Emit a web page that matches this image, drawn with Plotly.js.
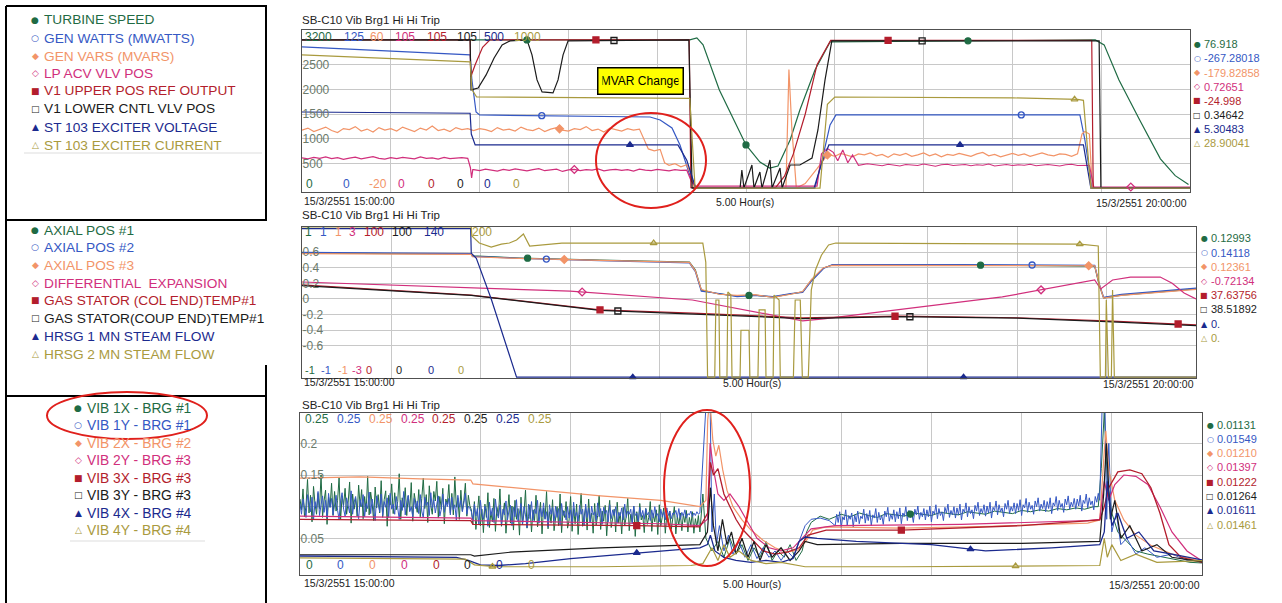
<!DOCTYPE html>
<html>
<head>
<meta charset="utf-8">
<script src="https://cdn.plot.ly/plotly-3.0.1.min.js"></script>
<style>
html,body{margin:0;padding:0;background:#ffffff;overflow:hidden;}
#chart{width:1282px;height:603px;}
</style>
</head>
<body>
<div id="chart"></div>
<script>
// ======================= DATA =======================
// Time in minutes after 15/3/2551 15:00:00 (0 .. 300 = 20:00:00)
function grid(t0, n, dt){ const a=[]; for(let i=0;i<n;i++) a.push(+(t0+i*dt).toFixed(2)); return a; }
const milli = a => a.map(v => v / 1000);

// ---------- Panel 1 (values in the panel's displayed scale 0..3200) ----------
const p1Legend = ['TURBINE SPEED','GEN WATTS (MWATTS)','GEN VARS (MVARS)','LP ACV VLV POS','V1 UPPER POS REF OUTPUT','V1 LOWER CNTL VLV POS','ST 103 EXCITER VOLTAGE','ST 103 EXCITER CURRENT'];
const p1Max = ['3200','125','60','105','105','105','500','1000'];
const p1Min = ['0','0','-20','0','0','0','0','0'];
const p1End = ['76.918','-267.28018','-179.82858','0.72651','-24.998','0.34642','5.30483','28.90041'];
const p1Ticks = [500,1000,1500,2000,2500];

const speedT = [0,56.8,131,133.4,135.5,141,150,154.7,158,160.8,164.9,168.2,173.3,178.4,268,271,276,283,290,295,299.5];
const speedV = [3000,3000,3000,3040,2900,1990,880,535,414,455,980,1585,2394,2960,3000,2900,2190,1384,600,260,80];

const wattsT = [0,56.8,57.4,58.8,60,117.6,121,125,127.7,131,132.8,173.3,175.7,178.4,180.4,262.8,264.5,266.9,300];
const wattsV = [2858,2697,2192,1545,1485,1444,1384,1222,879,273,10,10,576,1283,1485,1485,980,10,10];

const varsA = [1180,1220,1150,1200,1240,1170,1130,1210,1190,1250,1160,1200,1140,1230,1180,1210,1160,1240,1190,1150,1220,1180,1260,1170,1200,1150,1230,1190,1210];
const varsB = [1170,1210,1190,1150,1230,1180,1200,1160,1240,1190,1170,1220,1150,1200,1230,1180,1160,1210,1190,1250,1170,1200,1140,1220,1190,1160,1210,1180,1200];
const varsCT = [115.5,117,119,121,122.5,124,126,128,130,131.3,132.5];
const varsCV = [980,800,760,790,520,470,500,440,480,300,10];
const varsDT = [163.5,164.5,165.5,167,170,174,177.5];
const varsDV = [10,2400,1200,10,100,400,677];
const varsE = [690,650,710,670,640,700,680,720,660,690,630,700,670,710,650,680,720,660,700,640,690,670,710,680,650,700,730,660,690,640,680,710,670,700,650,690,720,680,660,700,690,650,700];
const varsFT = [263.5,264.5,266,267,300];
const varsFV = [1100,1150,1100,10,10];

const acvA = [620,600,630,610,640,605,625,590,615,635,600,620,645,610,595,625,605,630,615,600,640,610,620,595,630,605,615,625,610];
const acvBT = [56.9,57.3,57.7];
const acvBV = [420,212,380];
const acvC = [380,360,390,370,350,385,365,395,375,355,380,400,360,370,390,345,375,385,360,380,370,395,355,375,385,365,380,350,390,370,360,385,375,355,380,365,370];
const acvDT = [131.5,133,174,175.5,177.5,179.5,181,182.7,184.4,186,188,191];
const acvDV = [150,50,50,700,810,730,560,780,520,680,470,500];
const acvE = [480,460,490,470,455,485,475,465,495,470,450,480,490,465,475,485,460,480,470,495,455,475,485,465,480,470,490,460,475,485,470,455,480,490,465,475];
const acvFT = [266,267.5,300];
const acvFV = [470,30,30];

const upperT = [0,56.8,57.0,58.5,61,63.5,130.8,131.4,160,163,166,170,174,178.6,266.8,267.3,300];
const upperV = [3000,3000,2250,2500,2850,3000,3000,20,20,250,700,1500,2500,2990,2990,20,20];

const lowerT = [0,56.8,57.1,59.5,62.2,64.9,67.6,70.3,76,77.7,79.4,81.1,84.8,86.5,88.2,89.9,130.7,131.8,148,148.6,149.3,152,152.7,154.7,155.4,158.1,158.8,161.5,162.2,164.9,168.2,172.3,174.3,176.7,179,269.3,269.9,300];
const lowerV = [3000,3000,1990,2030,2293,2636,2900,2980,3000,2697,2192,1950,1930,2192,2697,2980,3000,10,10,374,10,475,10,333,10,576,10,414,10,475,475,616,1182,2192,2980,2980,10,10];

const voltT = [0,56.8,57.2,58.5,127,130,133,173,175.5,178,264,266.5,300];
const voltV = [1545,1520,1100,880,880,570,10,10,500,880,880,10,10];

const currT = [0,56.8,57.4,59,131,132.8,175,177.5,180,240,262,264,266.5,300];
const currV = [2697,2555,2000,1848,1820,10,10,1700,1848,1830,1800,1780,10,10];

const p1Marks = [[76,150,225],[81,243],[87,177.5],[92,280],[99.3,198],[105.4,209.5],[110.8,222.3],[261]];

// ---------- Panel 2 (displayed scale about -1..1) ----------
const p2Legend = ['AXIAL POS #1','AXIAL POS #2','AXIAL POS #3','DIFFERENTIAL  EXPANSION','GAS STATOR (COL END)TEMP#1','GAS STATOR(COUP END)TEMP#1','HRSG 1 MN STEAM FLOW','HRSG 2 MN STEAM FLOW'];
const p2Max = ['1','1','1','3','100','100','140','200'];
const p2Min = ['-1','-1','-1','-3','0','0','0','0'];
const p2End = ['0.12993','0.14118','0.12361','-0.72134','37.63756','38.51892','0.','0.'];
const p2Ticks = [-0.6,-0.4,-0.2,0,0.2,0.4,0.6];
const p2TickText = ['-0.6','-0.4','-0.2','0','0.2','0.4','0.6'];

const axialT = [0,56.8,57.2,73,100,130,132,134,140,146,152,158,164,168,171,175,178,220,266,267.5,269,275,300];
const axial1V = [0.587,0.575,0.55,0.524,0.498,0.47,0.37,0.115,0.064,0.038,0.05,0.025,0.064,0.09,0.243,0.396,0.434,0.434,0.42,0.18,0.013,0.05,0.128];
const axial2V = [0.595,0.58,0.545,0.52,0.49,0.462,0.35,0.1,0.07,0.03,0.045,0.03,0.07,0.085,0.23,0.39,0.44,0.44,0.43,0.2,0.02,0.06,0.14];
const axial3V = [0.58,0.57,0.54,0.518,0.494,0.468,0.36,0.12,0.06,0.045,0.055,0.02,0.06,0.095,0.25,0.4,0.43,0.43,0.425,0.19,0.01,0.045,0.124];

const diffT = [0,56.8,90,131,150,168,175,200,235,266,268,272,278,288,292,296,300];
const diffV = [0.217,0.14,0.10,-0.013,-0.153,-0.28,-0.255,-0.14,0.026,0.243,0.128,0.243,0.28,0.28,0.2,0.077,0.0];

const statorT = [0,56.8,100,131,168,200,240,270,300];
const statorColV = [0.18,0.05,-0.14,-0.18,-0.24,-0.22,-0.24,-0.28,-0.33];
const statorCoupV = [0.17,0.045,-0.145,-0.19,-0.25,-0.225,-0.245,-0.29,-0.34];

const hrsg1T = [0,56.6,56.8,58.5,63.5,68.5,72,300];
const hrsg1V = [0.9,0.9,0.587,0.52,0.0,-0.58,-1.0,-1.0];

const hrsg2T = [0,56.8,57.0,59.5,63.5,66.9,69.6,72.0,74.3,76.4,87.2,134.5,135.5,136.1,138.5,138.9,139.9,140.2,142.6,142.9,143.9,144.3,147.0,147.3,150.0,150.3,153.0,153.4,155.4,155.7,158.1,158.4,160.1,160.5,164.9,165.5,167.2,167.9,169.9,170.9,172.3,174.3,176.7,179.1,261.1,267.2,267.9,269.6,269.9,270.6,271.6,272.0,272.6,300];
const hrsg2V = [0.92,0.92,0.805,0.715,0.664,0.70,0.715,0.753,0.83,0.677,0.715,0.715,0.47,-1.0,-1.0,-0.013,-0.013,-1.0,-1.0,0.09,0.05,-1.0,-1.0,-0.4,-0.4,-1.0,-1.0,-0.14,-0.14,-1.0,-1.0,0.05,-0.013,-1.0,-1.0,-0.013,-0.013,-1.0,-1.0,0.115,0.37,0.56,0.69,0.715,0.70,0.677,-1.0,-1.0,-0.013,-1.0,-1.0,0.115,-1.0,-1.0];

const p2Marks = [[75.7,150,227.7],[82,245],[88,264],[94,248],[100,199,294],[106,204],[111,222],[118,261]];

// ---------- Panel 3 (displayed scale 0..0.25; noisy pens typed in thousandths) ----------
const p3Legend = ['VIB 1X - BRG #1','VIB 1Y - BRG #1','VIB 2X - BRG #2','VIB 2Y - BRG #3','VIB 3X - BRG #3','VIB 3Y - BRG #3','VIB 4X - BRG #4','VIB 4Y - BRG #4'];
const p3Max = ['0.25','0.25','0.25','0.25','0.25','0.25','0.25','0.25'];
const p3Min = ['0','0','0','0','0','0','0','0'];
const p3End = ['0.01131','0.01549','0.01210','0.01397','0.01222','0.01264','0.01611','0.01461'];
const p3Ticks = [0.05,0.1,0.15,0.2];
const p3TickText = ['0.05','','0.15','0.2'];

// VIB 1X: 15:00-15:57 every 0.5 min (thousandths)
const vib1xA = [112,95,128,84,101,143,90,118,76,132,104,88,121,97,150,83,109,126,72,115,
  99,137,86,124,93,110,146,79,117,102,129,88,106,139,74,120,96,113,85,134,
  100,127,81,116,92,148,87,123,105,78,131,98,119,90,141,83,111,125,69,118,
  103,136,89,122,95,108,152,80,114,99,130,86,117,94,138,77,121,106,91,127,
  84,113,145,97,119,75,133,102,88,124,109,140,82,116,96,129,73,112,104,135,
  90,121,87,147,99,114,80,126,93,110,137,85,118,101];
// VIB 1X: 15:57-17:12 every 0.5 min
const vib1xB = [95,72,108,64,88,117,70,96,59,104,83,122,67,91,76,113,61,99,85,128,
  69,93,106,58,87,119,74,101,63,110,80,97,55,115,72,90,126,66,84,103,
  60,95,78,118,68,89,107,57,98,81,124,65,92,74,111,62,87,100,70,120,
  59,94,83,108,66,79,116,61,97,73,104,56,88,121,69,85,99,63,112,76,
  90,58,105,71,86,118,64,93,77,102,54,89,110,67,81,96,60,107,74,91,
  57,99,70,84,113,62,88,75,101,53,92,68,105,79,86,59,97,72,83,108,
  61,89,76,95,56,103,70,82,98,58,87,74,93,64,80,100,57,85,71,90,
  62,88,75,94,60,83,70,92,58,81,68,86];
const vib1xCT = [133,134,135,137,139,141,143,145,147,149,151,153,155,157,159,161,163,165,167,168.5,170,173,176];
const vib1xCV = [60,120,50,30,45,20,50,25,40,15,35,20,45,15,30,20,40,15,30,60,75,85,80];
// VIB 1X: 18:00-19:24 every 3 min
const vib1xD = [88,84,90,86,83,89,87,85,90,88,86,91,89,87,92,90,88,93,91,89,94,92,95,93,97,95,98,96,100];
const vib1xET = [265.5,266.5,267.5,268.5,270,272,275,278,282,287,292,296,300];
const vib1xEV = [100,160,250,140,90,60,45,30,25,20,15,12,11];

const vib1yA = [104,88,112,95,83,119,101,92,115,79,108,97,124,86,103,117,91,110,82,121,
  99,113,87,106,118,94,80,109,122,96,85,114,102,90,125,88,107,116,93,81,
  111,100,119,84,105,97,123,89,112,95,78,117,103,92,120,86,108,99,114,83,
  121,96,104,88,116,101,80,110,94,124,87,106,118,92,100,84,113,97,109,89,
  119,93,82,115,102,107,86,122,98,111,90,104,117,85,96,120,91,108,100,113,
  87,115,95,103,79,118,99,110,92,106,121,88,101,97];
const vib1yB = [92,78,104,85,97,71,110,88,80,101,94,69,107,86,98,75,112,90,82,103,
  73,96,87,109,79,93,102,70,99,84,111,77,95,105,72,100,87,67,104,81,
  108,78,96,89,110,74,98,84,106,80,92,68,103,88,99,76,101,83,97,71,
  105,86,93,79,100,82,95,73,107,85,91,77,102,88,96,70,104,83,98,75,
  101,87,92,78,106,84,97,72,99,89,94,76,103,81,95,86,100,74,91,85,
  98,79,104,83,93,88,96,73,101,86,90,77,99,84,94,80,97,87,91,78,
  95,82,100,85,89,76,96,84,92,79,98,86,93,81,90,88,94,83,97,80,
  91,85,95,82,89,87,93,84,90,86,92,88];
const vib1yCT = [133,135.5,136.3,137,137.8,138.5,139.5,141,142.5,144,146,148,150,152,154,156,158,160,162,164,166,168,170,173,176];
const vib1yCV = [90,300,300,60,120,40,70,30,55,25,45,20,40,18,35,20,30,15,30,20,45,70,80,82,78];
// VIB 1Y: 17:58-19:25.5 every 0.5 min
const vib1yD = [70,88,75,92,66,84,79,95,71,86,80,90,68,87,76,93,73,85,81,96,
  74,89,78,94,70,87,82,97,75,91,79,86,72,93,84,99,77,88,80,95,
  76,92,81,98,73,90,85,100,78,94,83,89,75,96,87,101,80,91,84,97,
  79,95,84,101,76,93,88,103,81,97,86,92,78,99,90,104,83,94,87,100,
  82,98,87,104,79,96,91,106,84,100,89,95,81,102,93,107,86,97,90,103,
  85,101,90,107,82,99,94,109,87,103,92,98,84,105,96,110,89,100,93,106,
  89,105,94,111,86,103,98,113,91,107,96,102,88,109,100,114,93,104,97,110,
  92,108,97,114,89,106,101,116,94,110,99,105,91,112,103,117,96,107,100,113,
  96,112,101,118,93,110,105,120,98,114,103,109,95,116,107,121];
const vib1yET = [266,267,267.6,268.3,269,270,271.5,273,275,278,281,285,290,295,300];
const vib1yEV = [110,300,300,80,200,60,90,40,50,25,35,20,25,15,15.5];

const vib2xT = [0,20,40,56.8,57.5,80,100,120,133,135,135.6,136.3,137.3,138.3,139.3,140.6,142,144,147,150,154,158,162,166,168.5,170.5,175,200,230,262,266,267.3,268,269,271,274,278,283,290,300];
const vib2xV = [0.145,0.147,0.144,0.142,0.136,0.126,0.117,0.11,0.1,0.11,0.237,0.27,0.205,0.18,0.197,0.158,0.126,0.1,0.079,0.063,0.047,0.035,0.028,0.032,0.047,0.063,0.068,0.066,0.069,0.074,0.079,0.173,0.22,0.158,0.11,0.079,0.055,0.039,0.025,0.013];

const vib2yT = [0,30,56.8,57.5,90,120,133,135.5,136.4,137.5,139,141,143,146,149,152,156,160,164,167,170,178,220,262,266,267.5,269,271,274,278,282,286,290,295,300];
const vib2yV = [0.085,0.084,0.082,0.078,0.075,0.073,0.07,0.08,0.2,0.16,0.12,0.11,0.12,0.1,0.075,0.05,0.035,0.03,0.035,0.05,0.065,0.07,0.072,0.078,0.08,0.14,0.11,0.135,0.15,0.148,0.135,0.1,0.06,0.03,0.014];

const vib3xT = [0,30,56.8,57.5,90,112,133,135.6,136.5,137.5,139,141,143,145,147,150,154,158,162,166,169,175,200,240,266,267.5,269,272,276,280,283,286,289,293,300];
const vib3xV = [0.08,0.079,0.078,0.072,0.071,0.07,0.068,0.09,0.17,0.15,0.16,0.12,0.1,0.08,0.065,0.05,0.03,0.025,0.028,0.035,0.055,0.063,0.063,0.07,0.079,0.1,0.13,0.155,0.158,0.152,0.13,0.09,0.04,0.02,0.012];

const vib3yT = [0,56.8,58,70,100,133,135.5,136.5,137.5,139,140.5,142,143.5,145,147,149,151,153,155,157,160,163,166,168,172,200,240,266,267.3,268.2,269.5,271,273,276,280,285,290,300];
const vib3yV = [0.024,0.024,0.022,0.028,0.035,0.04,0.06,0.13,0.07,0.03,0.08,0.04,0.06,0.025,0.05,0.02,0.045,0.015,0.04,0.02,0.035,0.015,0.03,0.045,0.04,0.042,0.042,0.045,0.12,0.2,0.08,0.11,0.05,0.07,0.03,0.04,0.02,0.0126];

const vib4xT = [0,30,52,56,60,66,75,90,112,125,133,135.5,136.5,138,141,145,150,155,160,164,166,168,172,185,210,228,250,266,267.5,268.5,270,272,275,279,284,290,296,300];
const vib4xV = [0.022,0.021,0.02,0.015,0.008,0.007,0.01,0.018,0.027,0.032,0.035,0.04,0.055,0.03,0.02,0.015,0.012,0.015,0.012,0.018,0.045,0.052,0.05,0.045,0.04,0.03,0.035,0.04,0.06,0.14,0.07,0.09,0.05,0.06,0.03,0.025,0.02,0.016];

const vib4yT = [0,30,55,58,65,100,130,134,137,139,141,143,146,150,155,160,165,168,200,240,266,267.5,268.5,270,273,278,285,300];
const vib4yV = [0.019,0.018,0.017,0.008,0.005,0.005,0.007,0.01,0.035,0.015,0.04,0.02,0.03,0.015,0.01,0.012,0.008,0.005,0.005,0.006,0.007,0.05,0.02,0.04,0.015,0.025,0.012,0.0146];

const p3Marks = [[203],[],[],[],[112,200],[],[112,223],[64,238]];

// ======================= STYLE =======================
const FONT = 'Liberation Sans, Arial, Helvetica, sans-serif';
const penColors = ['#1f6b44','#3558c4','#f29468','#d12f7c','#b31d2c','#1b1b1b','#1b2a8e','#a99a3e'];
const glyphs = ['\u25CF','\u25CB','\u25C6','\u25C7','\u25A0','\u25A1','\u25B2','\u25B3'];
const symbols = ['circle','circle-open','diamond','diamond-open','square','square-open','triangle-up','triangle-up-open'];
const W = 1282, H = 603;
const X = px => px / W;
const Y = py => 1 - py / H;

function interp(T, V, t){
  if (t <= T[0]) return V[0];
  for (let i = 1; i < T.length; i++){
    if (t <= T[i]){ const f = (t - T[i-1]) / (T[i] - T[i-1]); return V[i-1] + f * (V[i] - V[i-1]); }
  }
  return V[V.length - 1];
}

const p1Series = [
  {t: speedT, v: speedV},
  {t: wattsT, v: wattsV},
  {t: [...grid(0,29,2), ...grid(58,29,2), ...varsCT, ...varsDT, ...grid(178,43,2), ...varsFT],
   v: [...varsA, ...varsB, ...varsCV, ...varsDV, ...varsE, ...varsFV]},
  {t: [...grid(0,29,2), ...acvBT, ...grid(58,37,2), ...acvDT, ...grid(194,36,2), ...acvFT],
   v: [...acvA, ...acvBV, ...acvC, ...acvDV, ...acvE, ...acvFV]},
  {t: upperT, v: upperV},
  {t: lowerT, v: lowerV},
  {t: voltT, v: voltV},
  {t: currT, v: currV}
];
const p2Series = [
  {t: axialT, v: axial1V}, {t: axialT, v: axial2V}, {t: axialT, v: axial3V},
  {t: diffT, v: diffV}, {t: statorT, v: statorColV}, {t: statorT, v: statorCoupV},
  {t: hrsg1T, v: hrsg1V}, {t: hrsg2T, v: hrsg2V}
];
const p3Series = [
  {t: [...grid(0,114,0.5), ...grid(57,152,0.5), ...vib1xCT, ...grid(180,29,3), ...vib1xET],
   v: milli([...vib1xA, ...vib1xB, ...vib1xCV, ...vib1xD, ...vib1xEV])},
  {t: [...grid(0,114,0.5), ...grid(57,152,0.5), ...vib1yCT, ...grid(178,176,0.5), ...vib1yET],
   v: milli([...vib1yA, ...vib1yB, ...vib1yCV, ...vib1yD, ...vib1yEV])},
  {t: vib2xT, v: vib2xV}, {t: vib2yT, v: vib2yV}, {t: vib3xT, v: vib3xV},
  {t: vib3yT, v: vib3yV}, {t: vib4xT, v: vib4xV}, {t: vib4yT, v: vib4yV}
];

const traces = [];
function addPanel(series, marks, xa, ya, widths){
  series.forEach((s, i) => {
    traces.push({type:'scatter', mode:'lines', x:s.t, y:s.v, xaxis:xa, yaxis:ya,
      line:{color:penColors[i], width:(widths && widths[i]) || 1.2}, hoverinfo:'skip', showlegend:false});
  });
  series.forEach((s, i) => {
    const m = marks[i];
    if (!m || !m.length) return;
    traces.push({type:'scatter', mode:'markers', x:m, y:m.map(t => interp(s.t, s.v, t)), xaxis:xa, yaxis:ya,
      marker:{symbol:symbols[i], size:6, color:penColors[i], line:{color:penColors[i], width:1.3}},
      hoverinfo:'skip', showlegend:false, cliponaxis:false});
  });
}
addPanel(p1Series, p1Marks, 'x', 'y');
addPanel(p2Series, p2Marks, 'x2', 'y2');
addPanel(p3Series, p3Marks, 'x3', 'y3', [1.0,1.0,1.2,1.2,1.3,1.2,1.3,1.2]);

// ======================= LAYOUT =======================
const gridC = '#c8c8c8', frameC = '#505050';
function xAxis(d, anchor){
  return {domain:[X(d[0]), X(d[1])], range:[0,300], anchor:anchor, dtick:30, tick0:0, showticklabels:false,
    ticks:'', showgrid:true, gridcolor:gridC, gridwidth:1, zeroline:false, showline:true, mirror:true,
    linecolor:frameC, linewidth:1, fixedrange:true};
}
function yAxis(top, bottom, range, tv, tt, anchor){
  return {domain:[Y(bottom), Y(top)], range:range, anchor:anchor, tickvals:tv, ticktext:tt, ticks:'',
    ticklabelposition:'inside', showgrid:true, gridcolor:gridC, gridwidth:1, zeroline:false, showline:true,
    mirror:true, linecolor:frameC, linewidth:1, fixedrange:true,
    tickfont:{family:FONT, size:12, color:'#6b7a6b'}};
}

const ann = [];
function A(x, y, text, color, size, xanchor, extra){
  ann.push(Object.assign({xref:'paper', yref:'paper', x:X(x), y:Y(y), text:text, showarrow:false,
    xanchor:xanchor || 'left', yanchor:'middle', font:{family:FONT, size:size, color:color}}, extra || {}));
}
function G(x, y, i, size){
  ann.push({xref:'paper', yref:'paper', x:X(x), y:Y(y), text:glyphs[i], showarrow:false, xanchor:'center',
    yanchor:'middle', font:{family:'DejaVu Sans, sans-serif', size:size || 9, color:penColors[i]}});
}

const legTop = [20,38,56,73,91,109,127,145];
const legMid = [230,247,265,283,300,318,336,354];
const legBot = [408,425,443,460,478,495,513,530];
p1Legend.forEach((s,i) => { G(35, legTop[i], i); A(42, legTop[i], s, penColors[i], 13.7); });
p2Legend.forEach((s,i) => { G(35, legMid[i], i); A(42, legMid[i], s, penColors[i], 13.7); });
p3Legend.forEach((s,i) => { G(78, legBot[i], i); A(85, legBot[i], s, penColors[i], 13.8); });

[[20,201],[215,382],[405,583]].forEach((p, k) => {
  A(300, p[0], 'SB-C10 Vib Brg1 Hi Hi Trip', '#222222', 11.5);
  A(302, p[1], '15/3/2551 15:00:00', '#222222', 10.5);
  A([745,752,752][k], p[1] + 1, '5.00 Hour(s)', '#222222', 10.5, 'center');
  A([1189,1196,1202][k], p[1] + 2, '15/3/2551 20:00:00', '#222222', 10.5, 'right');
});

const p1MaxX = [303,342,368,393,425,455,482,512], p1MinX = [304,341,367,396,426,455,482,511];
const p2MaxX = [303,318,333,347,362,390,422,470], p2MinX = [303,319,336,350,364,394,426,456];
const p3MaxX = [303,335,367,399,430,462,494,526], p3MinX = [304,335,367,399,431,462,494,526];
p1Max.forEach((s,i) => A(p1MaxX[i], 37, s, penColors[i], 12));
p1Min.forEach((s,i) => A(p1MinX[i], 184, s, penColors[i], 12));
p2Max.forEach((s,i) => A(p2MaxX[i], 232, s, penColors[i], 12));
p2Min.forEach((s,i) => A(p2MinX[i], 370, s, penColors[i], 11));
p3Max.forEach((s,i) => A(p3MaxX[i], 419, s, penColors[i], 12));
p3Min.forEach((s,i) => A(p3MinX[i], 565, s, penColors[i], 12));

const endTop = [44,58,72.7,86.7,100.7,115,129,143];
const endMid = [238,252.7,266.7,281,295,309,324,338];
const endBot = [425,439,453,467,482,496,510,525];
p1End.forEach((s,i) => { G(1197, endTop[i], i, 8); A(1202, endTop[i], s, penColors[i], 11); });
p2End.forEach((s,i) => { G(1204, endMid[i], i, 8); A(1209, endMid[i], s, penColors[i], 11); });
p3End.forEach((s,i) => { G(1210, endBot[i], i, 8); A(1215, endBot[i], s, penColors[i], 11); });

ann.push({xref:'paper', yref:'paper', x:X(640), y:Y(80.5), text:'MVAR Change', showarrow:false,
  xanchor:'center', yanchor:'middle', font:{family:FONT, size:12, color:'#000'}, bgcolor:'#ffff00',
  bordercolor:'#000', borderwidth:1.5, borderpad:4, width:76, height:17});

const shapes = [];
function L(x0,y0,x1,y1,color,w){ shapes.push({type:'line', xref:'paper', yref:'paper', x0:X(x0), y0:Y(y0), x1:X(x1), y1:Y(y1), line:{color:color, width:w}}); }
function E(x0,y0,x1,y1){ shapes.push({type:'circle', xref:'paper', yref:'paper', x0:X(x0), y0:Y(y0), x1:X(x1), y1:Y(y1), line:{color:'#e0201c', width:2}}); }
L(6,6,6,603,'#000',2);
L(6,6,267,6,'#000',2);
L(266,6,266,220,'#000',2);
L(6,220,267,220,'#000',2);
L(266,365,266,396,'#000',2);
L(6,396,267,396,'#000',2);
L(266,396,266,603,'#000',2);
L(24,153,262,153,'#dddddd',1);
L(70,541,205,541,'#dddddd',1);
E(47,392,207,439);
E(596,113,706,208);
E(664,410,750,566);

const layout = {
  width:W, height:H, margin:{l:0, r:0, t:0, b:0}, paper_bgcolor:'#ffffff', plot_bgcolor:'#ffffff',
  showlegend:false, font:{family:FONT},
  xaxis: xAxis([302,1190], 'y'),
  yaxis: yAxis(30, 192, [-70,3200], p1Ticks, p1Ticks.map(String), 'x'),
  xaxis2: xAxis([302,1196], 'y2'),
  yaxis2: yAxis(227, 378, [-1.01,0.92], p2Ticks, p2TickText, 'x2'),
  xaxis3: xAxis([300,1202], 'y3'),
  yaxis3: yAxis(413, 575, [-0.008,0.248], p3Ticks, p3TickText, 'x3'),
  annotations: ann, shapes: shapes
};

Plotly.newPlot('chart', traces, layout, {staticPlot:true, displayModeBar:false, responsive:false});
</script>
</body>
</html>
